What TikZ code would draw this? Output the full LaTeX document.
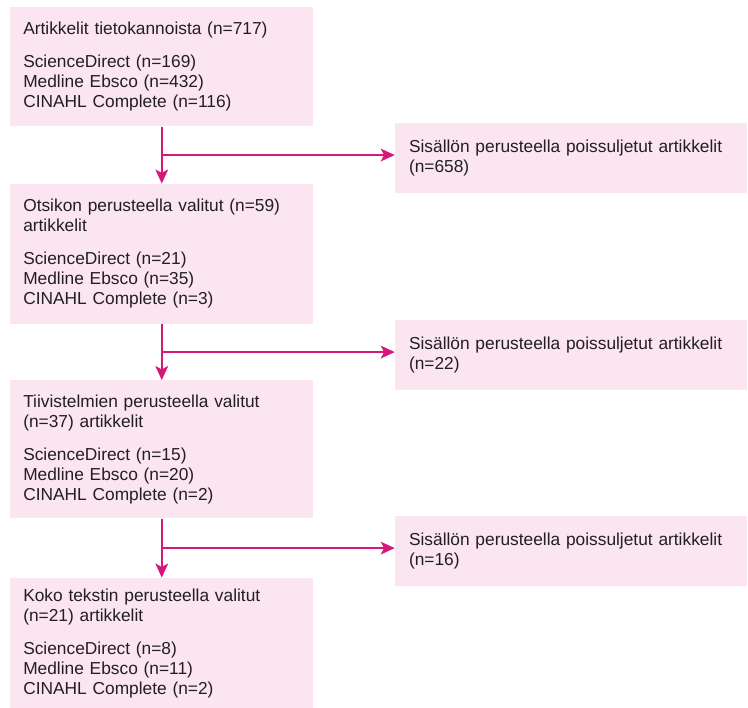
\documentclass[tikz,border=0pt]{standalone}
\usepackage{xcolor}
\usepackage{fontspec}
\setmainfont{Liberation Sans}
\usepackage{tikz}
\usetikzlibrary{arrows.meta, positioning, calc}

\definecolor{boxpink}{RGB}{250,229,240}
\definecolor{flowpink}{RGB}{214,24,122}
\definecolor{textgrey}{RGB}{35,31,32}

\begin{document}
\begin{tikzpicture}[
    stage/.style={rectangle, fill=boxpink, text=textgrey, text width=207.75pt, inner xsep=9.75pt, inner ysep=0pt, align=left, font=\fontsize{13}{15}\selectfont},
    excl/.style={rectangle, fill=boxpink, text=textgrey, text width=243pt, inner xsep=10.5pt, inner ysep=0pt, minimum height=52.5pt, align=left, font=\fontsize{13}{15}\selectfont},
    flow/.style={-{Stealth[length=10.5pt, width=9.5pt, inset=2.5pt]}, line width=1.6pt, draw=flowpink}
]
\useasboundingbox (0,0) rectangle (561pt,-530.25pt);

\node[stage, minimum height=89.25pt, anchor=north west] (articles) at (7.5pt,-5.25pt)
    {Artikkelit tietokannoista (n=717)\\[10pt]
     ScienceDirect (n=169)\\ Medline Ebsco (n=432)\\ CINAHL Complete (n=116)};
\node[stage, minimum height=105pt, below=42.75pt of articles] (titles)
    {Otsikon perusteella valitut (n=59) artikkelit\\[10pt]
     ScienceDirect (n=21)\\ Medline Ebsco (n=35)\\ CINAHL Complete (n=3)};
\node[stage, minimum height=103.5pt, below=42pt of titles] (abstracts)
    {Tiivistelmien perusteella valitut (n=37) artikkelit\\[10pt]
     ScienceDirect (n=15)\\ Medline Ebsco (n=20)\\ CINAHL Complete (n=2)};
\node[stage, minimum height=98.25pt, below=44.25pt of abstracts] (fulltext)
    {Koko tekstin perusteella valitut (n=21) artikkelit\\[10pt]
     ScienceDirect (n=8)\\ Medline Ebsco (n=11)\\ CINAHL Complete (n=2)};

% branch points between the stages
\coordinate (split1) at ($(articles.south)!.5!(titles.north)$);
\coordinate (split2) at ($(titles.south)!.5!(abstracts.north)$);
\coordinate (split3) at ($(abstracts.south)!.5!(fulltext.north)$);

\node[excl, right=174.75pt of split1, yshift=-2.25pt] (excl1) {Sisällön perusteella poissuljetut artikkelit\\(n=658)};
\node[excl, right=174.75pt of split2, yshift=-2.25pt] (excl2) {Sisällön perusteella poissuljetut artikkelit\\(n=22)};
\node[excl, right=174.75pt of split3, yshift=-2.25pt] (excl3) {Sisällön perusteella poissuljetut artikkelit\\(n=16)};

\draw[flow] (articles) -- (titles);
\draw[flow] (titles) -- (abstracts);
\draw[flow] (abstracts) -- (fulltext);
\draw[flow] (split1) -- (split1 -| excl1.west);
\draw[flow] (split2) -- (split2 -| excl2.west);
\draw[flow] (split3) -- (split3 -| excl3.west);
\end{tikzpicture}
\end{document}
